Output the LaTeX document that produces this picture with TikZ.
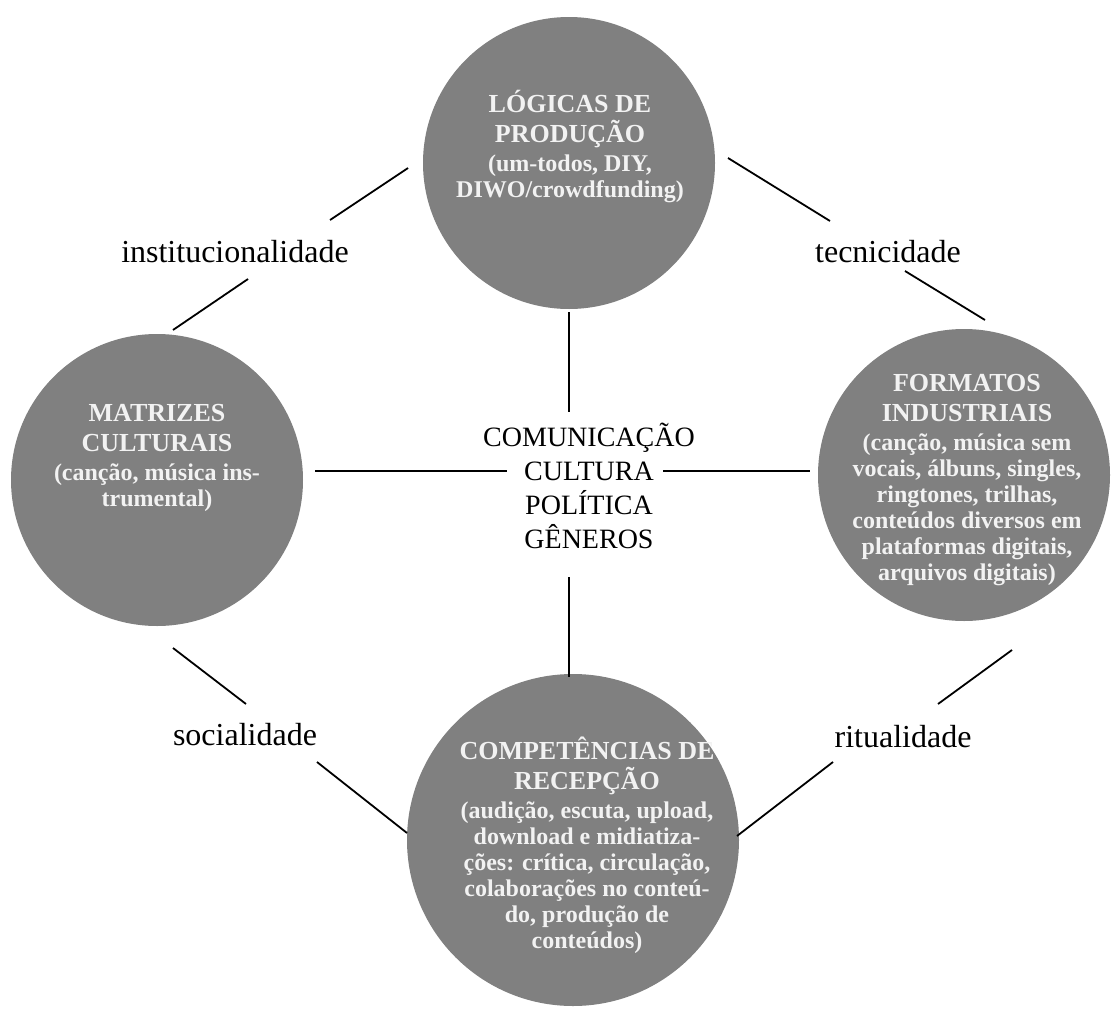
\documentclass[tikz,border=0pt]{standalone}
\usepackage{fontspec}
\setmainfont{Liberation Serif}
\definecolor{cgray}{RGB}{128,128,128}
\definecolor{ctext}{RGB}{242,242,242}
\newcommand\bigln[1]{{\fontsize{26}{30}\selectfont #1}}
\begin{document}
\begin{tikzpicture}[x=1pt,y=-1pt,
  bubble/.style={circle, fill=cgray, draw=none, inner sep=0pt, minimum size=#1},
  btext/.style={align=center, text=ctext, font=\bfseries\fontsize{24}{26}\selectfont, inner sep=0pt},
  lbl/.style={font=\fontsize{32}{36}\selectfont, inner sep=0pt},
  ctr/.style={align=center, font=\fontsize{28}{34}\selectfont, inner sep=0pt},
  link/.style={line width=1.8pt, black}]
\useasboundingbox (0,0) rectangle (1117,1009);

% circles
\node[bubble=292pt] (prod) at (569,163) {};
\node[bubble=292pt] (matr) at (157,480) {};
\node[bubble=292pt] (form) at (964,475) {};
\node[bubble=332pt] (comp) at (573,840) {};

% circle texts
\node[btext] (prodtxt) at (570,146) {\bigln{LÓGICAS DE}\\[4pt]\bigln{PRODUÇÃO}\\[3pt](um-todos, DIY,\\DIWO/crowdfunding)};
\node[btext] (matrtxt) at (157,458) {\bigln{MATRIZES}\\[4pt]\bigln{CULTURAIS}\\[3pt](canção, música ins-\\trumental)};
\node[btext] (formtxt) at (967,480) {\bigln{FORMATOS}\\[4pt]\bigln{INDUSTRIAIS}\\[3pt](canção, música sem\\vocais, álbuns, singles,\\ringtones, trilhas,\\conteúdos diversos em\\plataformas digitais,\\arquivos digitais)};
\node[btext] (comptxt) at (587,845) {\bigln{COMPETÊNCIAS DE}\\[4pt]\bigln{RECEPÇÃO}\\[3pt](audição, escuta, upload,\\download e midiatiza-\\ções: crítica, circulação,\\colaborações no conteú-\\do, produção de\\conteúdos)};

% centre text
\node[ctr] (centre) at (589,486) {COMUNICAÇÃO\\CULTURA\\POLÍTICA\\GÊNEROS};

% mediation labels
\node[lbl] (inst) at (235,252) {institucionalidade};
\node[lbl] (tec) at (888,252) {tecnicidade};
\node[lbl] (soc) at (245,735) {socialidade};
\node[lbl] (rit) at (903,737) {ritualidade};

% connector end points
\coordinate (i1) at (173,330); \coordinate (i2) at (248,279);
\coordinate (i3) at (330,220); \coordinate (i4) at (408,168);
\coordinate (t1) at (728,158); \coordinate (t2) at (830,221);
\coordinate (t3) at (905,271); \coordinate (t4) at (985,320);
\coordinate (s1) at (173,648); \coordinate (s2) at (246,704);
\coordinate (s3) at (317,762); \coordinate (s4) at (407,833);
\coordinate (r1) at (1012,650); \coordinate (r2) at (938,704);
\coordinate (r3) at (833,762); \coordinate (r4) at (737,836);
\coordinate (v1) at (569,312); \coordinate (v2) at (569,412);
\coordinate (v3) at (569,577); \coordinate (v4) at (569,677);
\coordinate (h1) at (315,471); \coordinate (h2) at (507,471);
\coordinate (h3) at (663,471); \coordinate (h4) at (810,471);

\draw[link] (i1) -- (i2);
\draw[link] (i3) -- (i4);
\draw[link] (t1) -- (t2);
\draw[link] (t3) -- (t4);
\draw[link] (s1) -- (s2);
\draw[link] (s3) -- (s4);
\draw[link] (r1) -- (r2);
\draw[link] (r3) -- (r4);
\draw[link] (v1) -- (v2);
\draw[link] (v3) -- (v4);
\draw[link] (h1) -- (h2);
\draw[link] (h3) -- (h4);
\end{tikzpicture}
\end{document}
